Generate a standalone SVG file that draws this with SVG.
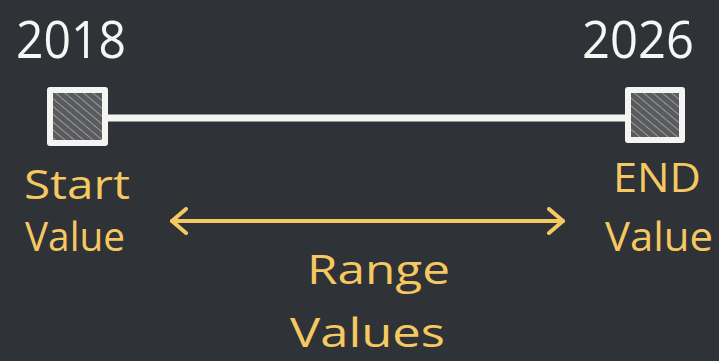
<svg xmlns="http://www.w3.org/2000/svg" width="719" height="361" viewBox="0 0 719 361">
<style>
.bg{fill:#2f3237}
.yr{font-family:"Open Sans","Liberation Sans",sans-serif;font-size:52px;fill:#f6f6f4}
.lbl{font-family:"Open Sans","Liberation Sans",sans-serif;font-size:41px;fill:#f5c862}
.box{fill:#6b6c6e;stroke:#f4f4f2;stroke-width:6;stroke-linejoin:round}
.tl{stroke:#f4f4f2;stroke-width:7;stroke-linecap:round}
.rng{stroke:#f5c862;stroke-width:4;stroke-linecap:round;fill:none}
</style>
<defs>
<pattern id="hatch" width="6" height="6" patternUnits="userSpaceOnUse" patternTransform="rotate(-50)">
<rect width="6" height="6" fill="#5a5b5e"/>
<line x1="0" y1="0" x2="0" y2="6" stroke="#9a9a9a" stroke-width="2"/>
</pattern>
<marker id="chev" markerWidth="20" markerHeight="28" refX="18" refY="14" orient="auto-start-reverse" markerUnits="userSpaceOnUse">
<path d="M4 2 L18 14 L4 26" fill="none" stroke="#f5c862" stroke-width="4" stroke-linecap="round" stroke-linejoin="round"/>
</marker>
</defs>
<rect class="bg" width="719" height="361"/>
<g id="connectors">
<line class="tl" x1="105" y1="118" x2="627" y2="118"/>
<line class="rng" x1="172" y1="221" x2="563" y2="221" marker-start="url(#chev)" marker-end="url(#chev)"/>
</g>
<g id="start">
<text class="yr" x="16" y="58" textLength="110" lengthAdjust="spacingAndGlyphs">2018</text>
<rect class="box" x="50" y="90" width="55" height="53" style="fill:url(#hatch)"/>
<text class="lbl" x="24" y="199" textLength="106" lengthAdjust="spacingAndGlyphs">Start</text>
<text class="lbl" x="25" y="251" textLength="100" lengthAdjust="spacingAndGlyphs">Value</text>
</g>
<g id="end">
<text class="yr" x="582" y="58" textLength="112" lengthAdjust="spacingAndGlyphs">2026</text>
<rect class="box" x="628" y="90" width="54" height="50" style="fill:url(#hatch)"/>
<text class="lbl" x="613" y="192" textLength="88" lengthAdjust="spacingAndGlyphs">END</text>
<text class="lbl" x="605" y="251" textLength="108" lengthAdjust="spacingAndGlyphs">Value</text>
</g>
<g id="range">
<text class="lbl" x="307" y="284" textLength="143" lengthAdjust="spacingAndGlyphs">Range</text>
<text class="lbl" x="290" y="347" textLength="155" lengthAdjust="spacingAndGlyphs">Values</text>
</g>
</svg>
